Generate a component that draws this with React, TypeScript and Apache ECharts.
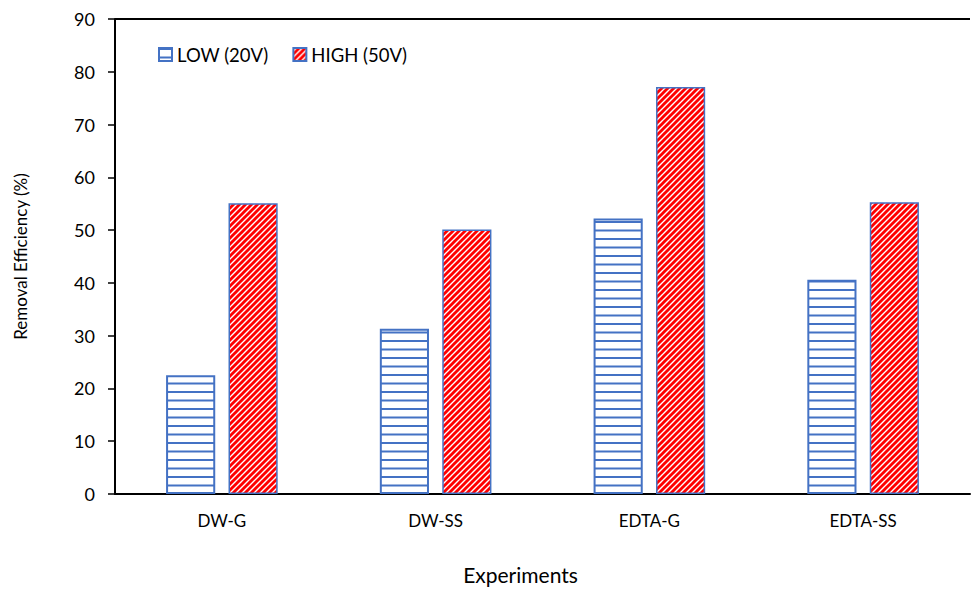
import React, { useEffect, useRef } from "react";
import * as echarts from "echarts";

const categories = ["DW-G", "DW-SS", "EDTA-G", "EDTA-SS"];
const lowValues = [22.5, 31.3, 52.2, 40.6];
const highValues = [55.1, 50.1, 77.1, 55.3];
const seriesNames = ["LOW (20V)", "HIGH (50V)"];

const FONT = "Lato, 'Noto Sans', sans-serif";
const BLUE = "#4472C4";
const RED = "#FF0000";

// horizontal blue rules on white
function makeHorizontalPattern(): string {
  const c = document.createElement("canvas");
  c.width = 8;
  c.height = 17;
  const ctx = c.getContext("2d")!;
  ctx.fillStyle = "#ffffff";
  ctx.fillRect(0, 0, 8, 17);
  ctx.fillStyle = BLUE;
  ctx.fillRect(0, 0, 8, 2);
  ctx.fillRect(0, 8.5, 8, 2);
  return c.toDataURL();
}

// red "/" diagonal stripes on white
function makeDiagonalPattern(): string {
  const s = 6;
  const c = document.createElement("canvas");
  c.width = s;
  c.height = s;
  const ctx = c.getContext("2d")!;
  ctx.fillStyle = "#ffffff";
  ctx.fillRect(0, 0, s, s);
  ctx.strokeStyle = RED;
  ctx.lineWidth = 2.9;
  for (const k of [-s, 0, s]) {
    ctx.beginPath();
    ctx.moveTo(k - 1, s + 1);
    ctx.lineTo(k + s + 1, -1);
    ctx.stroke();
  }
  return c.toDataURL();
}

export default function App() {
  const ref = useRef<HTMLDivElement>(null);

  useEffect(() => {
    if (!ref.current) return;
    const chart = echarts.init(ref.current, undefined, { renderer: "svg" });
    const lowFill = { image: makeHorizontalPattern(), repeat: "repeat" };
    const highFill = { image: makeDiagonalPattern(), repeat: "repeat" };

    // only the top (90) grid line is drawn, closing the plot area
    const splitColors = new Array(9).fill("rgba(0,0,0,0)");
    splitColors.push("#000000");

    chart.setOption({
      animation: false,
      backgroundColor: "#ffffff",
      textStyle: { fontFamily: FONT },
      grid: { left: 115, right: 2, top: 19, bottom: 96 },
      legend: {
        left: 158,
        top: 45,
        padding: 0,
        itemWidth: 13,
        itemHeight: 13,
        itemGap: 24,
        icon: "rect",
        textStyle: { fontFamily: FONT, fontSize: 18.5, color: "#000" },
        data: seriesNames,
      },
      xAxis: {
        type: "category",
        data: categories,
        axisLine: { lineStyle: { color: "#000", width: 2 } },
        axisTick: { show: false },
        axisLabel: { fontFamily: FONT, fontSize: 17, color: "#000", margin: 18 },
        name: "Experiments",
        nameLocation: "middle",
        nameGap: 70,
        nameTextStyle: { fontFamily: FONT, fontSize: 21, color: "#000", padding: [0, 44, 0, 0] },
      },
      yAxis: {
        type: "value",
        min: 0,
        max: 90,
        interval: 10,
        axisLine: { show: true, lineStyle: { color: "#000", width: 2 } },
        axisTick: { show: true, length: 7, lineStyle: { color: "#000", width: 1.5 } },
        axisLabel: { fontFamily: FONT, fontSize: 18, color: "#000", margin: 20 },
        splitLine: { show: true, lineStyle: { color: splitColors, width: 2 } },
        name: "Removal Efficiency (%)",
        nameLocation: "middle",
        nameGap: 86,
        nameTextStyle: { fontFamily: FONT, fontSize: 17, color: "#000" },
      },
      series: [
        {
          name: seriesNames[0],
          type: "bar",
          data: lowValues,
          barWidth: "23%",
          barGap: "27%",
          itemStyle: { color: lowFill, borderColor: BLUE, borderWidth: 2 },
        },
        {
          name: seriesNames[1],
          type: "bar",
          data: highValues,
          barWidth: "23%",
          itemStyle: { color: highFill, borderColor: BLUE, borderWidth: 1.5 },
        },
      ],
    });
    return () => chart.dispose();
  }, []);

  return (
    <div
      ref={ref}
      style={{ position: "fixed", left: 0, top: 0, width: 972, height: 590 }}
    />
  );
}
